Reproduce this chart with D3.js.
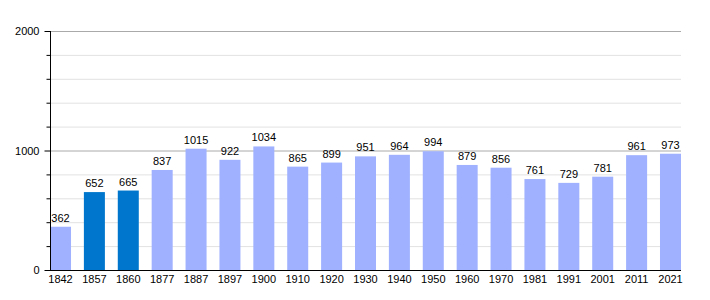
<!doctype html>
<html>
<head>
<style>
  body { margin: 0; background: white; }
  svg text { font-family: "Liberation Sans", Arial, sans-serif; font-size: 11px; fill: #000; }
</style>
<script src="https://d3js.org/d3.v7.min.js"></script>
</head>
<body>
<script>
// data
var years = ['1842','1857','1860','1877','1887','1897','1900','1910','1920','1930','1940','1950','1960','1970','1981','1991','2001','2011','2021'];
var population = [362,652,665,837,1015,922,1034,865,899,951,964,994,879,856,761,729,781,961,973];
var highlighted = ['1857','1860'];
var yTicks = [0, 1000, 2000];

var width = 710, height = 300;
var margin = {top: 31, right: 29, bottom: 30, left: 50};

var svg = d3.select('body').append('svg')
  .attr('width', width)
  .attr('height', height);

var x = d3.scaleBand()
  .domain(years)
  .range([margin.left, width - margin.right])
  .paddingInner(0.38)
  .paddingOuter(0);

var y = d3.scaleLinear()
  .domain([0, 2000])
  .range([height - margin.bottom, margin.top]);

// grid lines every 200
var grid = d3.range(200, 2001, 200);
svg.append('g').selectAll('line')
  .data(grid)
  .enter().append('line')
  .attr('x1', margin.left)
  .attr('x2', width - margin.right)
  .attr('y1', d => y(d) + 0.5)
  .attr('y2', d => y(d) + 0.5)
  .attr('stroke', d => d % 1000 === 0 ? '#aaaaaa' : '#e2e2e2')
  .attr('stroke-width', 1);

// bars
svg.append('g').selectAll('rect')
  .data(years)
  .enter().append('rect')
  .attr('x', d => x(d))
  .attr('width', x.bandwidth())
  .attr('y', (d, i) => y(population[i]))
  .attr('height', (d, i) => y(0) - y(population[i]))
  .attr('fill', d => highlighted.includes(d) ? '#0077cc' : '#a0b2ff');

// value labels
svg.append('g').selectAll('text')
  .data(years)
  .enter().append('text')
  .attr('x', d => x(d) + x.bandwidth() / 2)
  .attr('y', (d, i) => y(population[i]) - 5)
  .attr('text-anchor', 'middle')
  .text((d, i) => population[i]);

// y axis with minor ticks
var yAxis = svg.append('g')
  .attr('transform', `translate(${margin.left + 0.5},0)`);
yAxis.append('line')
  .attr('y1', y(2000))
  .attr('y2', y(0))
  .attr('stroke', '#000');
yAxis.selectAll('.tick')
  .data(d3.range(0, 2001, 200))
  .enter().append('line')
  .attr('x1', d => d % 1000 === 0 ? -6 : -4)
  .attr('x2', 0)
  .attr('y1', d => y(d) + 0.5)
  .attr('y2', d => y(d) + 0.5)
  .attr('stroke', '#000');
yAxis.selectAll('text')
  .data(yTicks)
  .enter().append('text')
  .attr('x', -11)
  .attr('y', d => y(d) + 4)
  .attr('text-anchor', 'end')
  .text(d => d);

// x axis
var xAxis = svg.append('g')
  .attr('transform', `translate(0,${y(0) + 0.5})`)
  .call(d3.axisBottom(x).tickSize(0).tickPadding(5));
xAxis.select('.domain').attr('stroke', '#000').attr('d', `M${margin.left},0H${width - margin.right}`);
xAxis.selectAll('text').style('font-size', '11px').style('font-family', '"Liberation Sans", Arial, sans-serif');
</script>
</body>
</html>
